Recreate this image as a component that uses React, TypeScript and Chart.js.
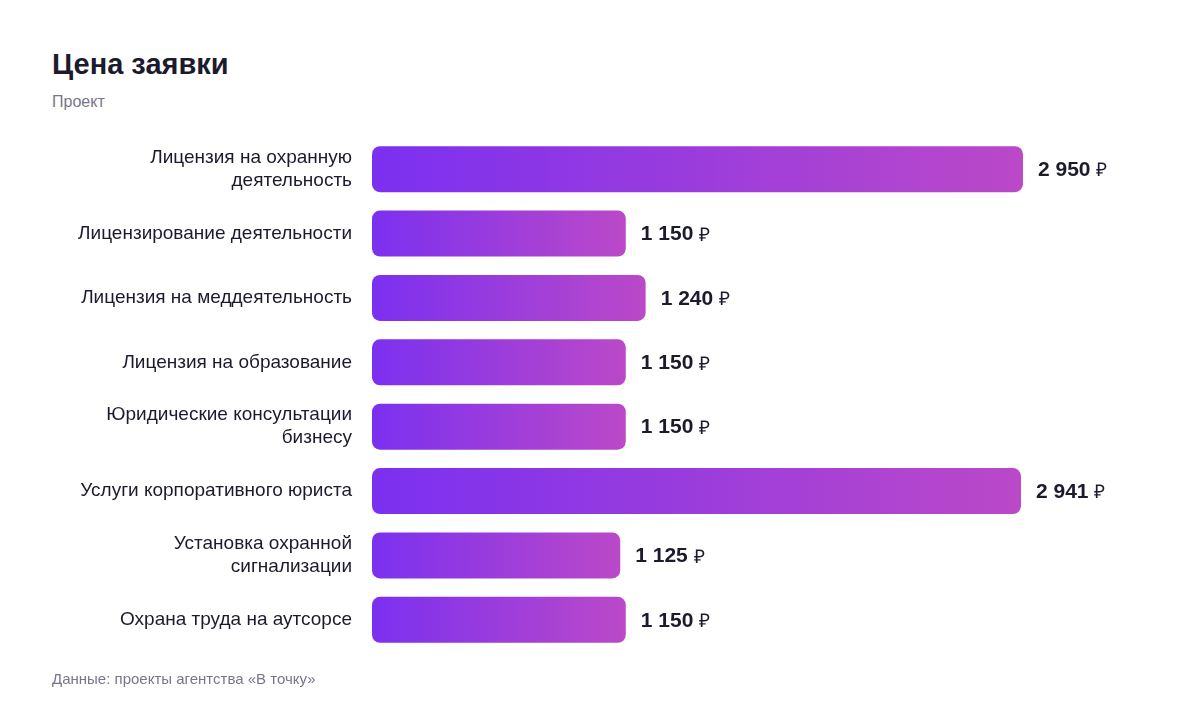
import { useEffect, useRef } from 'react'
import { Chart, registerables } from 'chart.js'

Chart.register(...registerables)

const categories: (string | string[])[] = [
  ['Лицензия на охранную', 'деятельность'],
  'Лицензирование деятельности',
  'Лицензия на меддеятельность',
  'Лицензия на образование',
  ['Юридические консультации', 'бизнесу'],
  'Услуги корпоративного юриста',
  ['Установка охранной', 'сигнализации'],
  'Охрана труда на аутсорсе',
]
const prices = [2950, 1150, 1240, 1150, 1150, 2941, 1125, 1150]

const FONT = '"Liberation Sans", Arial, Helvetica, sans-serif'
const TEXT = '#1c1b2e'
const MUTED = '#77768a'

const fmt = (v: number) => v.toString().replace(/\B(?=(\d{3})+(?!\d))/g, ' ')

// value labels to the right of each bar: bold number + regular ₽
const valueLabels = {
  id: 'valueLabels',
  afterDatasetsDraw(chart: Chart) {
    const ctx = chart.ctx
    const meta = chart.getDatasetMeta(0)
    ctx.save()
    ctx.textBaseline = 'middle'
    ctx.fillStyle = TEXT
    meta.data.forEach((bar: any, i: number) => {
      const num = fmt(prices[i])
      ctx.font = `bold 21px ${FONT}`
      const x = bar.x + 15
      ctx.fillText(num, x, bar.y + 1)
      const w = ctx.measureText(num + ' ').width
      ctx.font = `19px ${FONT}`
      ctx.fillText('₽', x + w, bar.y + 2)
    })
    ctx.restore()
  },
}

export default function App() {
  const canvasRef = useRef<HTMLCanvasElement>(null)
  const chartRef = useRef<Chart | null>(null)

  useEffect(() => {
    if (!canvasRef.current) return
    chartRef.current?.destroy()

    chartRef.current = new Chart(canvasRef.current, {
      type: 'bar',
      data: {
        labels: categories,
        datasets: [{
          data: prices,
          backgroundColor: (c: any) => {
            const chart = c.chart
            if (!chart.chartArea || c.raw == null) return '#7c31ef'
            const x0 = chart.scales.x.getPixelForValue(0)
            const x1 = chart.scales.x.getPixelForValue(c.raw)
            const g = chart.ctx.createLinearGradient(x0, 0, x1, 0)
            g.addColorStop(0, '#7b30f0')
            g.addColorStop(1, '#bb49c8')
            return g
          },
          borderRadius: 8,
          borderSkipped: false,
          categoryPercentage: 1,
          barPercentage: 0.714,
        }],
      },
      options: {
        indexAxis: 'y',
        animation: false,
        responsive: true,
        maintainAspectRatio: false,
        layout: { padding: { top: 137, bottom: 60, left: 0, right: 166 } },
        plugins: {
          legend: { display: false },
          tooltip: { enabled: false },
        },
        scales: {
          x: { display: false, min: 0, max: 3000 },
          y: {
            grid: { display: false, drawTicks: false },
            border: { display: false },
            ticks: {
              color: TEXT,
              padding: 20,
              font: { family: FONT, size: 19, lineHeight: 1.21 },
            },
            afterFit: (s: any) => { s.width = 372 },
          },
        },
      },
      plugins: [valueLabels],
    })

    return () => {
      chartRef.current?.destroy()
      chartRef.current = null
    }
  }, [])

  return (
    <div style={{ position: 'absolute', left: 0, top: 0, width: 1200, height: 712, background: '#fff', fontFamily: FONT }}>
      <div style={{ position: 'absolute', left: 52, top: 48, fontSize: 29, fontWeight: 700, color: TEXT, whiteSpace: 'nowrap' }}>
        Цена заявки
      </div>
      <div style={{ position: 'absolute', left: 52, top: 93, fontSize: 16, color: MUTED }}>
        Проект
      </div>
      <div style={{ position: 'absolute', left: 0, top: 0, width: 1200, height: 712 }}>
        <canvas ref={canvasRef} />
      </div>
      <div style={{ position: 'absolute', left: 52, top: 670, fontSize: 15, color: MUTED, whiteSpace: 'nowrap' }}>
        Данные: проекты агентства «В точку»
      </div>
    </div>
  )
}
